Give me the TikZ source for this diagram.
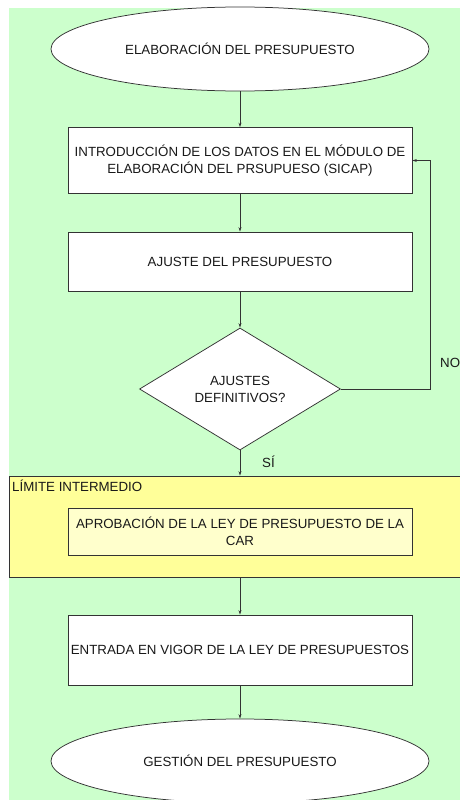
\documentclass[tikz,border=0pt]{standalone}
\usepackage{fontspec}
\setmainfont{Liberation Sans}
\usepackage{tikz}
\usepackage{xcolor}
\usetikzlibrary{shapes.geometric, arrows, arrows.meta, positioning, calc}

\definecolor{bggreen}{HTML}{CCFFCC}
\definecolor{lanefill}{HTML}{FFFF99}
\definecolor{boxfill}{HTML}{FFFFCC}

\begin{document}
\begin{tikzpicture}[x=1pt, y=-1pt,
            every node/.style={font=\fontsize{13.3}{17}\selectfont, text=black!90},
            node_style/.style={draw=black!80, line width=0.75pt, fill=white, align=center},
            terminal/.style={node_style, ellipse, minimum width=378pt, minimum height=84pt, inner sep=0pt},
            process/.style={node_style, rectangle, minimum width=344pt, inner sep=2pt},
            decision/.style={node_style, diamond, aspect=1.65, minimum width=201pt, minimum height=122pt, inner sep=0pt},
            lane/.style={rectangle, draw=black!80, line width=0.75pt, fill=lanefill},
            arrow/.style={-{Stealth[length=4.5pt, width=3pt]}, draw=black!80, line width=0.75pt}
        ]

% Page and background
            \useasboundingbox (0,0) rectangle (460,800);
            \fill[bggreen] (9,8) rectangle (462,802);
            \node[lane, minimum width=453pt, minimum height=101pt] (limite) at (235.5,526.5) {};

% Flow chart
            \node[terminal] (inicio) at (240,49) {ELABORACIÓN DEL PRESUPUESTO};
            \node[process, minimum height=66pt] (datos) at (240,160.5) {INTRODUCCIÓN DE LOS DATOS EN EL MÓDULO DE\\ELABORACIÓN DEL PRSUPUESO (SICAP)};
            \node[process, minimum height=59pt] (ajuste) at (240,261.5) {AJUSTE DEL PRESUPUESTO};
            \node[decision] (definitivos) at (240,389) {AJUSTES\\DEFINITIVOS?};
            \node[process, fill=boxfill, minimum height=47pt] (aprobacion) at (240,531.5) {APROBACIÓN DE LA LEY DE PRESUPUESTO DE LA\\CAR};
            \node[process, minimum height=70pt] (vigor) at (240,650) {ENTRADA EN VIGOR DE LA LEY DE PRESUPUESTOS};
            \node[terminal] (gestion) at (240,761) {GESTIÓN DEL PRESUPUESTO};
            \coordinate (retorno) at (430,389);

% Labels
            \node[anchor=base west, inner sep=0pt] (limite_label) at (12,491) {LÍMITE INTERMEDIO};
            \node[anchor=base west, inner sep=0pt] (si) at (262,467) {SÍ};
            \node[anchor=base west, inner sep=0pt] (no) at (440,367) {NO};

% Connections
            \draw[arrow] (inicio) -- (datos);
            \draw[arrow] (datos) -- (ajuste);
            \draw[arrow] (ajuste) -- (definitivos);
            \draw[arrow] (definitivos.south) -- (definitivos.south |- limite.north);
            \draw[arrow] (vigor.north |- limite.south) -- (vigor.north);
            \draw[arrow] (vigor) -- (gestion);
            \draw[arrow] (definitivos.east) -- (retorno) |- (datos.east);

        \end{tikzpicture}
\end{document}
